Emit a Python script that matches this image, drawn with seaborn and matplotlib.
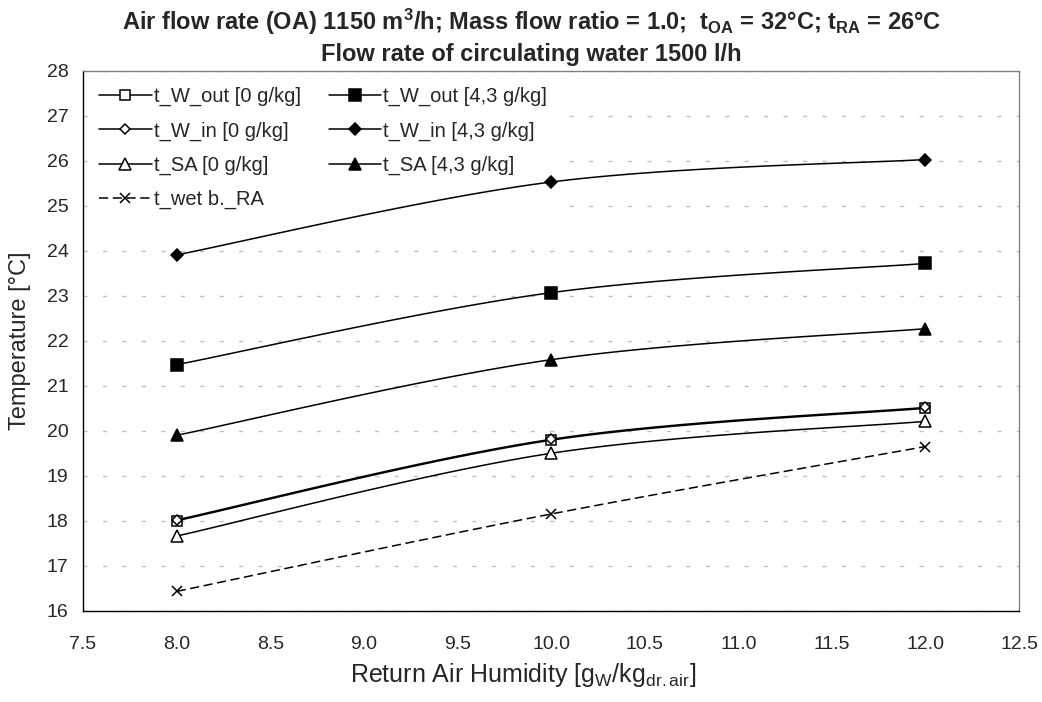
import numpy as np
import matplotlib.pyplot as plt
import seaborn as sns
from matplotlib.lines import Line2D

# Data
humidity = [8.0, 10.0, 12.0]
t_w_out_0 = [18.00, 19.79, 20.50]
t_w_out_43 = [21.47, 23.07, 23.72]
t_w_in_0 = [18.02, 19.81, 20.52]
t_w_in_43 = [23.91, 25.53, 26.03]
t_sa_0 = [17.66, 19.50, 20.21]
t_sa_43 = [19.90, 21.58, 22.27]
t_wet_ra = [16.43, 18.15, 19.65]

x_ticks = [7.5, 8.0, 8.5, 9.0, 9.5, 10.0, 10.5, 11.0, 11.5, 12.0, 12.5]
y_ticks = list(range(16, 29))

# label, values, marker, filled, linestyle, markersize
series = [
    ("t_W_out [0 g/kg]", t_w_out_0, "s", False, "-", 7.5),
    ("t_W_in [0 g/kg]", t_w_in_0, "D", False, "-", 5.5),
    ("t_SA [0 g/kg]", t_sa_0, "^", False, "-", 8),
    ("t_wet b._RA", t_wet_ra, "x", True, (0, (6, 3)), 7),
    ("t_W_out [4,3 g/kg]", t_w_out_43, "s", True, "-", 8),
    ("t_W_in [4,3 g/kg]", t_w_in_43, "D", True, "-", 6),
    ("t_SA [4,3 g/kg]", t_sa_43, "^", True, "-", 8.5),
]


def smooth(x, y, n=40):
    # Excel-like smoothed line (Catmull-Rom Bezier)
    pts = np.column_stack([x, y]).astype(float)
    p = np.vstack([pts[0], pts, pts[-1]])
    out = []
    t = np.linspace(0, 1, n)[:, None]
    for i in range(1, len(p) - 2):
        p0, p1, p2, p3 = p[i - 1], p[i], p[i + 1], p[i + 2]
        c1 = p1 + (p2 - p0) / 6
        c2 = p2 - (p3 - p1) / 6
        seg = (1 - t) ** 3 * p1 + 3 * (1 - t) ** 2 * t * c1 + 3 * (1 - t) * t ** 2 * c2 + t ** 3 * p2
        out.append(seg if i == 1 else seg[1:])
    return np.vstack(out)


sns.set_style("white")
plt.rcParams['font.family'] = ['Liberation Sans', 'DejaVu Sans']
plt.rcParams['mathtext.fontset'] = 'custom'
plt.rcParams['mathtext.rm'] = 'Liberation Sans'
plt.rcParams['mathtext.it'] = 'Liberation Sans:italic'
plt.rcParams['mathtext.bf'] = 'Liberation Sans:bold'

fig = plt.figure(figsize=(10.42, 7.02), dpi=100)
ax = fig.add_axes([0.0797, 0.130, 0.8983, 0.769])

handles = []
for label, vals, marker, filled, ls, ms in series:
    curve = smooth(humidity, vals)
    sns.lineplot(x=curve[:, 0], y=curve[:, 1], sort=False, estimator=None,
                 color="black", linewidth=1.1, linestyle=ls, ax=ax, zorder=3)
    face = "black" if filled else "white"
    ax.plot(humidity, vals, linestyle="none", marker=marker, markersize=ms,
            markerfacecolor=face, markeredgecolor="black", markeredgewidth=1.1, zorder=4)
    handles.append(Line2D([], [], color="black", linewidth=1.1, linestyle=ls, marker=marker,
                          markersize=ms, markerfacecolor=face, markeredgecolor="black",
                          markeredgewidth=1.1, label=label))

ax.set_xlim(7.5, 12.5)
ax.set_ylim(16, 28)
ax.set_xticks(x_ticks)
ax.set_xticklabels([f"{v:.1f}" for v in x_ticks])
ax.set_yticks(y_ticks)

ax.yaxis.grid(True, color="#c0c0c0", linestyle=(0, (3, 11)), linewidth=1)
ax.xaxis.grid(False)
ax.set_axisbelow(True)

for side in ["left", "bottom"]:
    ax.spines[side].set_color("black")
    ax.spines[side].set_linewidth(1)
for side in ["top", "right"]:
    ax.spines[side].set_color("#808080")
    ax.spines[side].set_linewidth(1)

ax.tick_params(axis="both", direction="out", length=4.5, width=1, labelsize=14, color="black")
ax.tick_params(axis="y", pad=6)
ax.tick_params(axis="x", pad=14)

ax.set_ylabel("Temperature [°C]", fontsize=17, labelpad=11)
ax.set_xlabel(r"Return Air Humidity [g$_\mathrm{W}$/kg$_\mathrm{dr.air}$]", fontsize=18)
ax.xaxis.set_label_coords(0.47, -0.093, transform=ax.transAxes)
ax.xaxis.label.set_va("top")

leg = ax.legend(handles=handles, ncol=2, loc="upper left", bbox_to_anchor=(0.0, 1.0),
                fontsize=14.5, frameon=True, facecolor="white", edgecolor="none", framealpha=1,
                handlelength=2.6, handletextpad=0.1, columnspacing=1.4, labelspacing=0.75,
                borderpad=0.5, borderaxespad=0.3, fancybox=False)
leg.set_zorder(1.5)

fig.text(0.51, 0.969,
         r"Air flow rate (OA) 1150 m$^\mathbf{3}$/h; Mass flow ratio = 1.0;  t$_\mathbf{OA}$ = 32°C; t$_\mathbf{RA}$ = 26°C",
         ha="center", va="center", fontsize=17, fontweight="bold")
fig.text(0.51, 0.922, "Flow rate of circulating water 1500 l/h",
         ha="center", va="center", fontsize=17, fontweight="bold")

fig.savefig("out.png", dpi=100)
